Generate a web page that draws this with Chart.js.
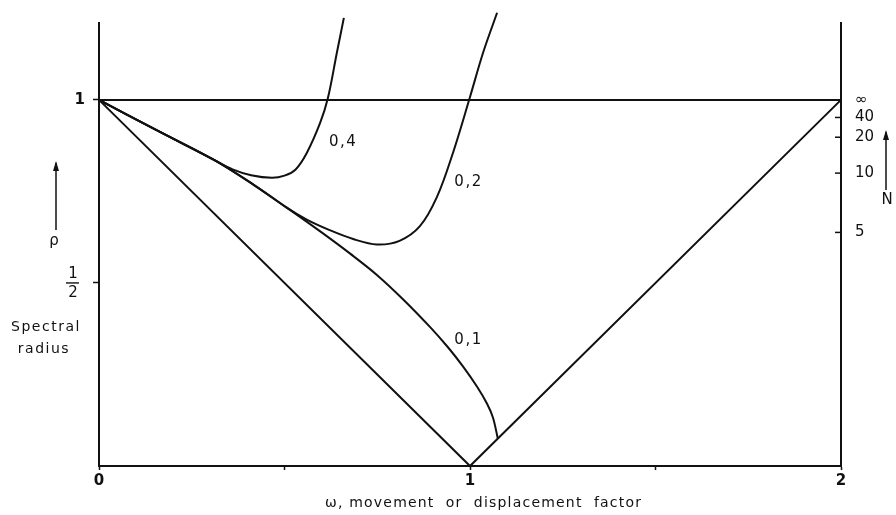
<!DOCTYPE html>
<html>
<head>
<meta charset="utf-8">
<script src="https://cdn.jsdelivr.net/npm/chart.js@4.4.1/dist/chart.umd.min.js"></script>
<style>
  html, body { margin: 0; padding: 0; background: #fff; }
  #wrap { width: 896px; height: 515px; }
</style>
</head>
<body>
<div id="wrap"><canvas id="rhoChart"></canvas></div>
<script>
// omega (displacement factor) on x, spectral radius rho on y
const xTickValues = [0, 0.5, 1, 1.5, 2];
const xTickLabels = ['0', '', '1', '', '2'];
const rhoTickValues = [0.5, 1];
const rhoTickLabels = ['', '1'];
const nTickRho = [0.638, 0.80, 0.898, 0.952, 1.0];
const nTickLabels = ['5', '10', '20', '40', '∞'];

const unitLineX = [0, 2];
const unitLineY = [1, 1];
const vShapeX = [0, 1, 2];
const vShapeY = [1, 0, 1];

const curve01X = [0, 0.15, 0.31, 0.42, 0.507, 0.6, 0.677, 0.749, 0.82, 0.892, 0.94, 0.981, 1.02, 1.046, 1.062, 1.075];
const curve01Y = [1, 0.92, 0.836, 0.766, 0.705, 0.638, 0.58, 0.522, 0.455, 0.38, 0.325, 0.272, 0.215, 0.17, 0.132, 0.075];

const curve02X = [0, 0.15, 0.31, 0.42, 0.507, 0.56, 0.62, 0.685, 0.749, 0.81, 0.865, 0.911, 0.954, 1.0, 1.035, 1.073];
const curve02Y = [1, 0.92, 0.836, 0.766, 0.705, 0.673, 0.645, 0.62, 0.605, 0.615, 0.655, 0.735, 0.855, 1.008, 1.128, 1.238];

const curve04X = [0, 0.15, 0.31, 0.36, 0.41, 0.466, 0.5, 0.53, 0.56, 0.596, 0.617, 0.641, 0.66];
const curve04Y = [1, 0.92, 0.836, 0.81, 0.794, 0.787, 0.793, 0.81, 0.855, 0.937, 1.005, 1.128, 1.224];

const curveNames = ['0,1', '0,2', '0,4'];
const curveNameX = [0.996, 0.996, 0.658];
const curveNameY = [0.344, 0.775, 0.884];

const ink = '#111';
const font = { family: '"DejaVu Sans"', size: 15 };

const pts = (xs, ys) => xs.map((v, i) => ({ x: v, y: ys[i] }));

function line(ctx, x1, y1, x2, y2) {
    ctx.beginPath();
    ctx.moveTo(x1, y1);
    ctx.lineTo(x2, y2);
    ctx.stroke();
}

function arrowUp(ctx, x, top, bottom) {
    line(ctx, x, bottom, x, top);
    ctx.beginPath();
    ctx.moveTo(x, top - 2);
    ctx.lineTo(x - 3, top + 8);
    ctx.lineTo(x + 3, top + 8);
    ctx.closePath();
    ctx.fill();
}

const annotate = {
    id: 'annotate',
    afterDraw(chart) {
        const ctx = chart.ctx;
        const x = chart.scales.x, y = chart.scales.y;
        const a = chart.chartArea;
        ctx.save();
        ctx.fillStyle = ink;
        ctx.strokeStyle = ink;
        ctx.textAlign = 'center';
        ctx.textBaseline = 'middle';

        // curve parameter labels
        ctx.font = '15px "DejaVu Sans"';
        ctx.letterSpacing = '1.5px';
        curveNames.forEach((t, i) => {
            ctx.fillText(t, x.getPixelForValue(curveNameX[i]), y.getPixelForValue(curveNameY[i]));
        });

        // 1/2 on the rho axis
        const yh = y.getPixelForValue(0.5);
        ctx.letterSpacing = '0px';
        ctx.fillText('1', a.left - 26, yh - 9);
        ctx.fillText('2', a.left - 26, yh + 10);
        ctx.lineWidth = 1.4;
        line(ctx, a.left - 33, yh, a.left - 20, yh);

        // inward ticks on the N axis
        ctx.lineWidth = 1.5;
        nTickRho.slice(0, 4).forEach(v => {
            const py = y.getPixelForValue(v);
            line(ctx, a.right - 6, py, a.right, py);
        });

        // rho arrow and label
        arrowUp(ctx, 56, 163, 230);
        ctx.fillText('ρ', 54, 241);

        // N arrow and label
        arrowUp(ctx, 886, 132, 190);
        ctx.fillText('N', 887, 200);

        // y title
        ctx.font = '14px "DejaVu Sans"';
        ctx.letterSpacing = '1.5px';
        ctx.fillText('Spectral', 46, 327);
        ctx.fillText('radius', 44, 349);

        // x title
        ctx.letterSpacing = '1.2px';
        ctx.textAlign = 'left';
        ctx.fillText('ω, movement  or  displacement  factor', 325, 503);
        ctx.restore();
    }
};

const curveStyle = {
    borderColor: ink,
    borderWidth: 2,
    pointRadius: 0,
    fill: false,
    clip: false
};

new Chart(document.getElementById('rhoChart'), {
    type: 'line',
    data: {
        datasets: [
            { ...curveStyle, data: pts(unitLineX, unitLineY), tension: 0 },
            { ...curveStyle, data: pts(vShapeX, vShapeY), tension: 0 },
            { ...curveStyle, data: pts(curve01X, curve01Y), tension: 0.35 },
            { ...curveStyle, data: pts(curve02X, curve02Y), tension: 0.35 },
            { ...curveStyle, data: pts(curve04X, curve04Y), tension: 0.35 }
        ]
    },
    options: {
        responsive: true,
        maintainAspectRatio: false,
        animation: false,
        layout: { padding: { top: 23, left: 0, right: 0, bottom: 0 } },
        plugins: { legend: { display: false }, tooltip: { enabled: false } },
        scales: {
            x: {
                type: 'linear', min: 0, max: 2,
                afterBuildTicks: s => { s.ticks = xTickValues.map(v => ({ value: v })); },
                ticks: { callback: (v, i) => xTickLabels[i], font: { ...font, weight: 'bold' }, color: ink, padding: 2, maxRotation: 0, autoSkip: false },
                grid: { drawOnChartArea: false, tickLength: 4, tickColor: ink, tickWidth: 1.5 },
                border: { display: true, color: ink, width: 2 },
                afterFit: s => { s.height = 49; }
            },
            y: {
                type: 'linear', min: 0, max: 1.21,
                afterBuildTicks: s => { s.ticks = rhoTickValues.map(v => ({ value: v })); },
                ticks: { callback: (v, i) => rhoTickLabels[i], font: { ...font, weight: 'bold' }, color: ink, padding: 8 },
                grid: { drawOnChartArea: false, tickLength: 6, tickColor: ink, tickWidth: 1.5 },
                border: { display: true, color: ink, width: 2 },
                afterFit: s => { s.width = 99; }
            },
            yN: {
                type: 'linear', position: 'right', min: 0, max: 1.21,
                afterBuildTicks: s => { s.ticks = nTickRho.map(v => ({ value: v })); },
                ticks: { callback: (v, i) => nTickLabels[i], font, color: ink, padding: 14 },
                grid: { drawOnChartArea: false, drawTicks: false },
                border: { display: true, color: ink, width: 2 },
                afterFit: s => { s.width = 55; }
            }
        }
    },
    plugins: [annotate]
});
</script>
</body>
</html>
